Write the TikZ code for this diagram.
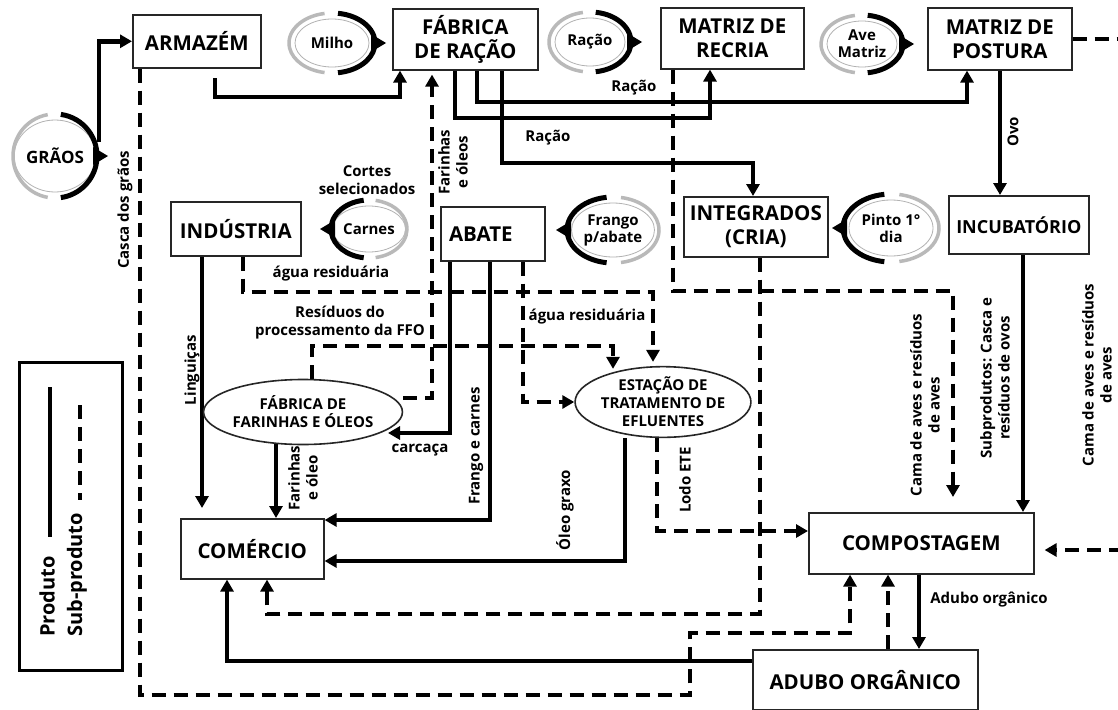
\documentclass[tikz,border=0pt]{standalone}
\usepackage{fontspec}
\setmainfont{Open Sans}
\usetikzlibrary{arrows.meta,shapes.geometric}
\pgfdeclarelayer{paper}
\pgfdeclarelayer{bg}
\pgfsetlayers{paper,bg,main}
\pgfdeclareradialshading{badgeshade}{\pgfpoint{0bp}{0bp}}{rgb(0bp)=(1,1,1); rgb(33bp)=(1,1,1); rgb(46bp)=(0.78,0.78,0.78); rgb(50bp)=(0.62,0.62,0.62)}
\tikzset{
 box/.style={draw=black!85, line width=1.6pt, fill=white, align=center, inner sep=0pt, anchor=north west, font=\fontsize{20.5}{24}\selectfont\bfseries},
 ell/.style={ellipse, draw=black!85, line width=1.6pt, fill=white, align=center, inner sep=0pt, font=\fontsize{15}{18}\selectfont\bfseries},
 lbl/.style={align=center, inner sep=1pt, font=\fontsize{15}{18}\selectfont\bfseries},
 vlbl/.style={lbl, rotate=90},
 prod/.style={line width=4.5pt, black},
 sub/.style={line width=4.5pt, black, dash pattern=on 14pt off 8pt},
 tip/.style={-{Triangle[length=12pt,width=13pt]}},
 badgein/.style={ellipse, draw=gray!60, line width=0.8pt, inner sep=0pt, shading=badgeshade, align=center, font=\fontsize{15}{17}\selectfont\bfseries},
}
\newcommand\badgeR[6]{%
  \node[badgein, minimum width={2*#4pt-12pt}, minimum height={2*#5pt-12pt}] (#1) at (#2,#3) {#6};
  \begin{scope}[shift={(#2,#3)}]
   \draw[gray!55, line width=3.5pt] (100:#4pt and #5pt) arc[start angle=100,end angle=260,x radius=#4pt,y radius=#5pt];
   \draw[black, line width=5pt] (82:#4pt and #5pt) arc[start angle=82,end angle=-82,x radius=#4pt,y radius=#5pt];
   \fill ({#4pt-4pt},9pt) -- ({#4pt+11pt},0pt) -- ({#4pt-4pt},-9pt) -- cycle;
  \end{scope}}
\newcommand\badgeL[6]{%
  \node[badgein, minimum width={2*#4pt-12pt}, minimum height={2*#5pt-12pt}] (#1) at (#2,#3) {#6};
  \begin{scope}[shift={(#2,#3)}]
   \draw[gray!55, line width=3.5pt] (-80:#4pt and #5pt) arc[start angle=-80,end angle=80,x radius=#4pt,y radius=#5pt];
   \draw[black, line width=5pt] (98:#4pt and #5pt) arc[start angle=98,end angle=262,x radius=#4pt,y radius=#5pt];
   \fill ({-#4pt+4pt},9pt) -- ({-#4pt-11pt},0pt) -- ({-#4pt+4pt},-9pt) -- cycle;
  \end{scope}}
\begin{document}
\begin{tikzpicture}[x=1pt,y=-1pt]
\useasboundingbox (0,0) rectangle (1118,709);
\clip (0,0) rectangle (1118,709);
\begin{pgfonlayer}{paper}
\fill[white] (0,0) rectangle (1118,709);
\end{pgfonlayer}

% boxes
\node[box, minimum width=128pt, minimum height=53pt] (arm) at (132,14) {ARMAZÉM};
\node[box, minimum width=145pt, minimum height=61pt] (fab) at (392,8) {FÁBRICA\\DE RAÇÃO};
\node[box, minimum width=143pt, minimum height=61pt] (rec) at (660,7) {MATRIZ DE\\RECRIA};
\node[box, minimum width=144pt, minimum height=62pt] (pos) at (927,7) {MATRIZ DE\\POSTURA};
\node[box, minimum width=130pt, minimum height=54pt] (ind) at (170,201) {INDÚSTRIA};
\node[box, minimum width=104pt, minimum height=54pt] (aba) at (440,206) {ABATE\kern24pt};
\node[box, minimum width=144pt, minimum height=60pt] (int) at (683,196) {INTEGRADOS\\(CRIA)};
\node[box, minimum width=140pt, minimum height=58pt, font=\fontsize{18}{22}\selectfont\bfseries] (inc) at (948,195) {INCUBATÓRIO};
\node[box, minimum width=143pt, minimum height=60pt] (com) at (180,518) {COMÉRCIO};
\node[box, minimum width=225pt, minimum height=61pt] (cmp) at (808,512) {COMPOSTAGEM};
\node[box, minimum width=225pt, minimum height=60pt] (adu) at (752,649) {ADUBO ORGÂNICO};

% ellipses
\node[ell, minimum width=168pt, minimum height=65pt] (ffo) at (303,412) {FÁBRICA DE\\FARINHAS E ÓLEOS};
\node[ell, minimum width=168pt, minimum height=64pt] (ete) at (663,402) {ESTAÇÃO DE\\TRATAMENTO DE\\EFLUENTES};

% badges
\badgeR{grao}{55}{156}{42}{42}{\fontsize{17}{20}\selectfont GRÃOS}
\badgeR{milho}{332}{43}{43}{30}{Milho}
\badgeR{racao}{590}{42}{41}{30}{Ração}
\badgeR{ave}{862}{44}{41}{29}{Ave\\Matriz}
\badgeL{carnes}{369}{229}{38}{29}{Carnes}
\badgeL{frango}{613}{230}{46}{33}{Frango\\p/abate}
\badgeL{pinto}{891}{228}{48}{34}{Pinto 1°\\dia}

% helper coordinates
\coordinate (x140) at (140,0);
\coordinate (x202) at (202,0);
\coordinate (x215) at (215,78);
\coordinate (x227) at (227,0);
\coordinate (x243) at (243,0);
\coordinate (x267) at (267,0);
\coordinate (x276) at (276,0);
\coordinate (x312) at (312,0);
\coordinate (x400) at (400,0);
\coordinate (x432) at (432,0);
\coordinate (x450) at (450,0);
\coordinate (x455) at (455,0);
\coordinate (x477) at (477,0);
\coordinate (x490) at (490,0);
\coordinate (x502) at (502,0);
\coordinate (x523) at (523,0);
\coordinate (x613) at (613,0);
\coordinate (x625) at (625,0);
\coordinate (x653) at (653,0);
\coordinate (x657) at (657,0);
\coordinate (x673) at (673,0);
\coordinate (x710) at (710,0);
\coordinate (x753) at (753,0);
\coordinate (x760) at (760,0);
\coordinate (x850) at (850,0);
\coordinate (x888) at (888,0);
\coordinate (x919) at (919,0);
\coordinate (x953) at (953,0);
\coordinate (x967) at (967,0);
\coordinate (x1000) at (1000,0);
\coordinate (x1023) at (1023,0);
\coordinate (y398) at (0,398);
\coordinate (y520) at (0,520);
\coordinate (y531) at (0,531);
\coordinate (y550) at (0,550);
\coordinate (y561) at (0,561);
\coordinate (y661) at (0,661);
\coordinate (carcEnd) at (388,433);

\begin{pgfonlayer}{bg}
% products
\draw[prod,tip] ([xshift=6pt]grao.20) |- (arm.west);
\draw[prod,tip] (x215) -- (215,97) -| (fab.south -| x400);
\draw[prod,tip] (fab.south -| x455) |- (710,118) -- (rec.south -| x710);
\draw[prod,tip] (fab.south -| x477) |- (967,102) -- (pos.south -| x967);
\draw[prod,tip] (fab.south -| x502) |- (753,163) -- (int.north -| x753);
\draw[prod,tip] (pos.south -| x1000) -- (inc.north -| x1000);
\draw[prod,tip] (ind.south -| x202) -- ([yshift=10pt]com.north -| x202);
\draw[prod,tip] ([yshift=5pt]ffo.south -| x276) -- (com.north -| x276);
\draw[prod,tip] (aba.south -| x450) |- (carcEnd);
\draw[prod,tip] (aba.south -| x490) |- (com.east |- y520);
\draw[prod,tip] (ete.south -| x625) |- (com.east |- y561);
\draw[prod,tip] (inc.south -| x1023) -- (cmp.north -| x1023);
\draw[prod,tip] (cmp.south -| x919) -- (adu.north -| x919);
\draw[prod,tip] (adu.west |- y661) -| (com.south -| x227);
% sub-products
\draw[sub,tip] (arm.south -| x140) -- (140,695) -| (690,633) -| (cmp.south -| x850);
\draw[sub,tip] (adu.north -| x888) -- (cmp.south -| x888);
\draw[sub,tip] (ind.south -| x243) |- (653,292) -- ([yshift=4pt]ete.north -| x653);
\draw[sub,tip] (int.south -| x760) -- (760,614) -| (com.south -| x267);
\draw[sub,tip] (rec.south -| x673) |- (953,291) -- ([yshift=15pt]cmp.north -| x953);
\draw[sub,tip] (pos.east) -| (1128,550) -- ([xshift=10pt]cmp.east |- y550);
\draw[sub,tip] (ete.south -| x657) |- (cmp.west |- y531);
\draw[sub,tip] (aba.south -| x523) |- (ete.west);
\draw[sub,tip] (ffo.north -| x312) |- (613,346) -- ([yshift=-3pt]ete.north -| x613);
\draw[sub,tip] (ffo.east |- y398) -| ([yshift=-4pt]fab.south -| x432);
\end{pgfonlayer}

% labels
\node[lbl] (lr1) at (634,88) {Ração};
\node[lbl] (lr2) at (548,138) {Ração};
\node[vlbl] (lovo) at (1013,132) {Ovo};
\node[vlbl] (lcasca) at (125,210) {Casca dos grãos};
\node[lbl] (lcortes) at (367,180) {Cortes\\selecionados};
\node[vlbl] (lfar1) at (453,162) {Farinhas\\e óleos};
\node[lbl] (lagua1) at (331,274) {água residuária};
\node[lbl] (lres) at (340,323) {Resíduos do\\processamento da FFO};
\node[lbl] (lagua2) at (587,317) {água residuária};
\node[vlbl] (lling) at (192,370) {Linguiças};
\node[lbl] (lcarc) at (420,450) {carcaça};
\node[vlbl] (lfrc) at (476,446) {Frango e carnes};
\node[vlbl] (lfar2) at (303,478) {Farinhas\\e óleo};
\node[vlbl] (loleo) at (565,510) {Óleo graxo};
\node[vlbl] (llodo) at (685,480) {Lodo ETE};
\node[vlbl] (lcama1) at (925,405) {Cama de aves e resíduos\\de aves};
\node[vlbl] (lsub) at (995,378) {Subprodutos: Casca e\\resíduos de ovos};
\node[vlbl] (lcama2) at (1097,375) {Cama de aves e resíduos\\de aves};
\node[lbl] (ladubo) at (989,600) {Adubo orgânico};

% legend
\node[draw, line width=3pt, minimum width=103pt, minimum height=308pt, anchor=north west, inner sep=0pt] (leg) at (18,361) {};
\node[rotate=90, anchor=west, inner sep=0pt, font=\fontsize{20}{24}\selectfont\bfseries] (lprod) at (47,637) {Produto};
\node[rotate=90, anchor=west, inner sep=0pt, font=\fontsize{20}{24}\selectfont\bfseries] (lsubp) at (77,637) {Sub-produto};
\draw[prod] (50,387) -- (50,537);
\draw[sub] (80,405) -- (80,500);
\end{tikzpicture}
\end{document}
